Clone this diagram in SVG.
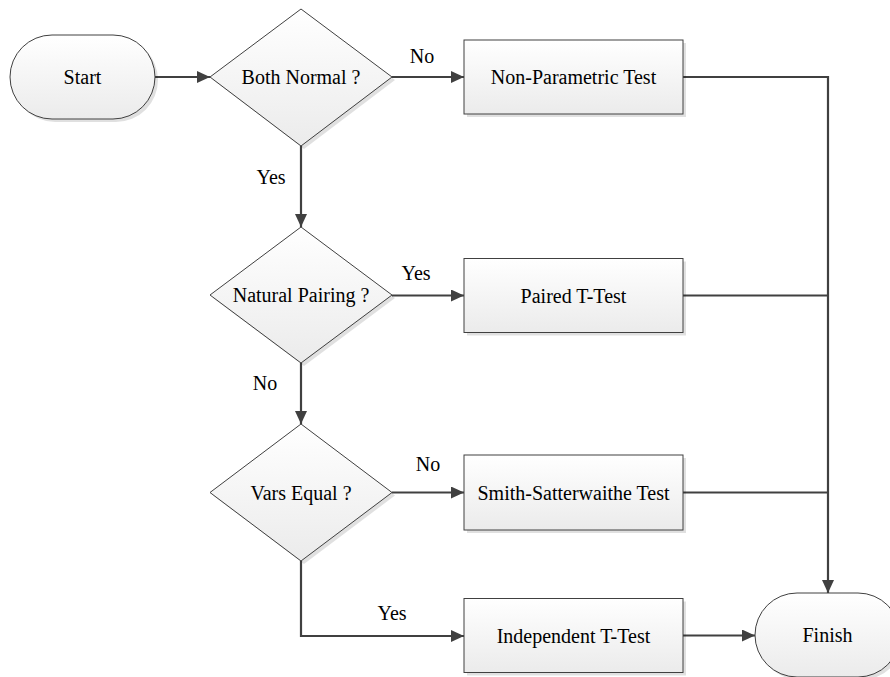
<svg xmlns="http://www.w3.org/2000/svg" width="890" height="677" viewBox="0 0 890 677">
<defs>
<linearGradient id="g" x1="0" y1="0" x2="0" y2="1">
<stop offset="0" stop-color="#ffffff"/>
<stop offset="1" stop-color="#ebebeb"/>
</linearGradient>
<marker id="arr" markerUnits="userSpaceOnUse" markerWidth="14" markerHeight="12" refX="13" refY="6" orient="auto">
<path d="M0,0 L13,6 L0,12 z" fill="#404040"/>
</marker>
<style>
.shape{fill:url(#g);stroke:#404040;stroke-width:1}
.sd{fill:#000;fill-opacity:0.12;stroke:none}
.c{fill:none;stroke:#404040;stroke-width:2.2}
.a{marker-end:url(#arr)}
</style>
</defs>
<g id="connectors">
<path class="c a" d="M155,77 H210"/>
<path class="c a" d="M392,77 H464"/>
<path class="c a" d="M301,146 V227"/>
<path class="c a" d="M392,295.5 H464"/>
<path class="c a" d="M301,363 V424"/>
<path class="c a" d="M392,492.5 H464"/>
<path class="c a" d="M301,561 V636 H464"/>
<path class="c a" d="M683,77 H828 V593"/>
<path class="c" d="M683,295.5 H828"/>
<path class="c" d="M683,492.5 H828"/>
<path class="c a" d="M683,635.5 H755"/>
<text font-family="Liberation Serif" font-size="20" text-anchor="middle" x="422" y="63">No</text>
<text font-family="Liberation Serif" font-size="20" text-anchor="middle" x="271" y="184">Yes</text>
<text font-family="Liberation Serif" font-size="20" text-anchor="middle" x="416" y="280">Yes</text>
<text font-family="Liberation Serif" font-size="20" text-anchor="middle" x="265" y="390">No</text>
<text font-family="Liberation Serif" font-size="20" text-anchor="middle" x="428" y="471">No</text>
<text font-family="Liberation Serif" font-size="20" text-anchor="middle" x="392" y="620">Yes</text>
</g>
<g id="start">
<rect class="sd" x="13" y="38" width="145" height="84" rx="42" ry="42"/>
<rect class="shape" x="10" y="35" width="145" height="84" rx="42" ry="42"/>
<text font-family="Liberation Serif" font-size="20" text-anchor="middle" x="82.5" y="84">Start</text>
</g>
<g id="both-normal">
<polygon class="sd" points="304,12 395,80 304,149 213,80"/>
<polygon class="shape" points="301,9 392,77 301,146 210,77"/>
<text font-family="Liberation Serif" font-size="20" text-anchor="middle" x="301" y="84">Both Normal ?</text>
</g>
<g id="non-parametric">
<rect class="sd" x="467" y="43" width="219" height="74"/>
<rect class="shape" x="464" y="40" width="219" height="74"/>
<text font-family="Liberation Serif" font-size="20" text-anchor="middle" x="573.5" y="84">Non-Parametric Test</text>
</g>
<g id="natural-pairing">
<polygon class="sd" points="304,230 395,298 304,366 213,298"/>
<polygon class="shape" points="301,227 392,295 301,363 210,295"/>
<text font-family="Liberation Serif" font-size="20" text-anchor="middle" x="301" y="302">Natural Pairing ?</text>
</g>
<g id="paired">
<rect class="sd" x="467" y="261.5" width="219" height="74"/>
<rect class="shape" x="464" y="258.5" width="219" height="74"/>
<text font-family="Liberation Serif" font-size="20" text-anchor="middle" x="573.5" y="302.5">Paired T-Test</text>
</g>
<g id="vars-equal">
<polygon class="sd" points="304,427 395,495.5 304,564 213,495.5"/>
<polygon class="shape" points="301,424 392,492.5 301,561 210,492.5"/>
<text font-family="Liberation Serif" font-size="20" text-anchor="middle" x="301" y="499.5">Vars Equal ?</text>
</g>
<g id="smith">
<rect class="sd" x="467" y="458" width="219" height="75"/>
<rect class="shape" x="464" y="455" width="219" height="75"/>
<text font-family="Liberation Serif" font-size="20" text-anchor="middle" x="573.5" y="499.5">Smith-Satterwaithe Test</text>
</g>
<g id="independent">
<rect class="sd" x="467" y="601.5" width="219" height="74"/>
<rect class="shape" x="464" y="598.5" width="219" height="74"/>
<text font-family="Liberation Serif" font-size="20" text-anchor="middle" x="573.5" y="642.5">Independent T-Test</text>
</g>
<g id="finish">
<rect class="sd" x="758" y="596" width="145" height="84" rx="42" ry="42"/>
<rect class="shape" x="755" y="593" width="145" height="84" rx="42" ry="42"/>
<text font-family="Liberation Serif" font-size="20" text-anchor="middle" x="827.5" y="642">Finish</text>
</g>
</svg>
